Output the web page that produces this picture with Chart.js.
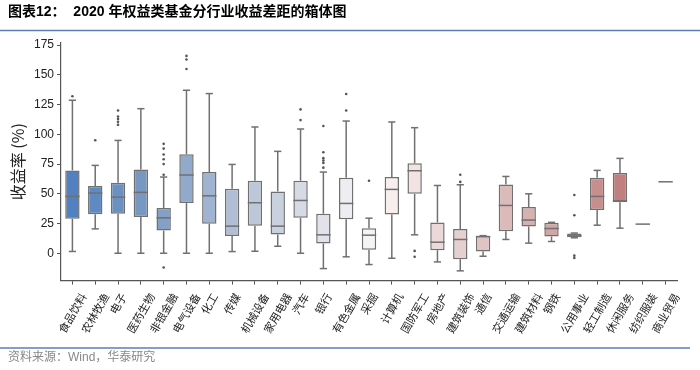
<!DOCTYPE html>
<html>
<head>
<meta charset="utf-8">
<script src="https://cdn.jsdelivr.net/npm/chart.js@4.4.0/dist/chart.umd.min.js"></script>
<style>
  html, body { margin: 0; padding: 0; background: #fff; }
  #wrap { width: 700px; height: 370px; }
</style>
</head>
<body>
<div id="wrap"><canvas id="boxChart"></canvas></div>
<script>
// box plot stats per industry (%)
const categories = ["食品饮料", "农林牧渔", "电子", "医药生物", "非银金融", "电气设备", "化工", "传媒",
  "机械设备", "家用电器", "汽车", "银行", "有色金属", "采掘", "计算机", "国防军工", "房地产",
  "建筑装饰", "通信", "交通运输", "建筑材料", "钢铁", "公用事业", "轻工制造", "休闲服务",
  "纺织服装", "商业贸易"];
const whiskerLow  = [1.5, 20.5, 0, 0, 0, 0, 0, 1.4, 1.7, 5.9, 0, -12.9, -3, -9.5, -4.2, 15.5, -7.3, -14.8, -2.5, 11.6, 8.5, 9.9, 13, 23.6, 21.1, 24.5, 60.1];
const q1          = [29, 32.9, 33.2, 30.4, 19.1, 42.2, 24.8, 14.6, 23.1, 15.8, 29.8, 8.2, 28.7, 2.9, 32.6, 50, 2.6, -5, 1.5, 18.6, 22.5, 14.1, 13.5, 36.3, 43, 24.5, 60.1];
const median      = [47.8, 50.6, 47.2, 51.2, 29.8, 65.8, 48.3, 22.8, 42.5, 22.8, 44.4, 15.5, 41.9, 15.2, 53.7, 69.4, 9.3, 11.6, 14, 40.2, 27.9, 20.8, 14.6, 47.8, 44.1, 24.5, 60.1];
const q3          = [69.7, 56.5, 59.3, 70.5, 38, 83.2, 68.3, 54.2, 61, 52, 61, 33.2, 63.5, 21.1, 64.1, 75.6, 25.9, 20.3, 14.5, 57.9, 38.8, 25.6, 16.6, 63.5, 67.4, 24.5, 60.1];
const whiskerHigh = [128.7, 73.9, 94.9, 121.6, 64.1, 137.1, 134.3, 74.7, 106.2, 85.7, 104.5, 68.3, 111.2, 29.5, 110.4, 105.6, 57, 57.6, 14.8, 64.6, 50, 26, 17, 69.7, 79.8, 24.5, 60.1];
const outliers = [[132], [95], [120, 115, 113, 110.5, 108], [], [92, 88, 83, 79, 75, 66, -12],
  [166, 163, 155], [], [], [], [], [121, 112], [107, 85, 80, 78, 76, 72], [134, 120], [61], [],
  [2, -3], [], [66, 60], [], [], [], [], [49, 32, -2, -4], [], [], [], []];
const yTicks = [0, 25, 50, 75, 100, 125, 150, 175];

const boxColors = ["#5181c0", "#5f89c1", "#6b91c2", "#7898c4", "#84a0c6", "#91a9cb", "#a0b3d0", "#b0bed5",
  "#bcc7da", "#c9d0de", "#d6dae4", "#e2e3ea", "#eeedf1", "#f5f4f4", "#f9eeee", "#f3e3e3", "#ecd8d8",
  "#e6cfcf", "#e0c4c4", "#dbbaba", "#d7b0b0", "#d2a6a6", "#cc9a9a", "#c88e8e", "#c27f7f", "#bd7474", "#b86a6a"];

const EDGE = "#707070";
const AXIS = "#555555";
const FONT = '"Liberation Sans", "Noto Sans CJK SC", sans-serif';
const CJK = '"Noto Sans CJK SC", sans-serif';

const outlierPoints = [];
outliers.forEach((vals, i) => {
  vals.forEach((v) => outlierPoints.push({ x: categories[i], y: v }));
});

// whiskers, caps and median lines
const boxExtras = {
  id: "boxExtras",
  afterDatasetsDraw(chart) {
    const { ctx, scales: { x, y } } = chart;
    const meta = chart.getDatasetMeta(0);
    ctx.save();
    ctx.strokeStyle = EDGE;
    ctx.lineWidth = 1.5;
    const line = (x1, y1, x2, y2) => {
      ctx.beginPath();
      ctx.moveTo(x1, y1);
      ctx.lineTo(x2, y2);
      ctx.stroke();
    };
    categories.forEach((c, i) => {
      const cx = x.getPixelForValue(i);
      const half = meta.data[i].width / 2;
      const cap = half / 2;
      const yHi = y.getPixelForValue(whiskerHigh[i]);
      const yLo = y.getPixelForValue(whiskerLow[i]);
      if (whiskerHigh[i] > q3[i]) {
        line(cx, y.getPixelForValue(q3[i]), cx, yHi);
        line(cx - cap, yHi, cx + cap, yHi);
      }
      if (whiskerLow[i] < q1[i]) {
        line(cx, y.getPixelForValue(q1[i]), cx, yLo);
        line(cx - cap, yLo, cx + cap, yLo);
      }
      const yMed = y.getPixelForValue(median[i]);
      line(cx - half, yMed, cx + half, yMed);
    });
    ctx.restore();
  }
};

// slanted category labels, centred on the tick like the original
const slantLabels = {
  id: "slantLabels",
  afterDraw(chart) {
    const { ctx, scales: { x } } = chart;
    const ang = 60 * Math.PI / 180;
    ctx.save();
    ctx.font = "11px " + CJK;
    ctx.fillStyle = "#222";
    ctx.textAlign = "center";
    ctx.textBaseline = "middle";
    categories.forEach((c, i) => {
      const L = ctx.measureText(c).width;
      const H = L * Math.sin(ang) + 10 * Math.cos(ang);
      const cx = x.getPixelForTick(i);
      const cy = x.top + 11 + H / 2;
      ctx.save();
      ctx.translate(cx, cy);
      ctx.rotate(-ang);
      ctx.fillText(c, 0, 0);
      ctx.restore();
    });
    ctx.restore();
  }
};

// blue rules under the title and above the source line
const rules = {
  id: "rules",
  afterDraw(chart) {
    const ctx = chart.ctx;
    ctx.save();
    ctx.strokeStyle = "#5b80b8";
    ctx.lineWidth = 1.6;
    ctx.beginPath();
    ctx.moveTo(0, 30.5);
    ctx.lineTo(700, 30.5);
    ctx.moveTo(0, 348);
    ctx.lineTo(690, 348);
    ctx.stroke();
    ctx.restore();
  }
};

new Chart(document.getElementById("boxChart"), {
  type: "bar",
  data: {
    labels: categories,
    datasets: [
      {
        type: "bar",
        data: categories.map((c, i) => [q1[i], q3[i]]),
        backgroundColor: boxColors,
        borderColor: EDGE,
        borderWidth: 1.5,
        borderSkipped: false,
        barPercentage: 0.63,
        categoryPercentage: 1,
      },
      {
        type: "line",
        data: outlierPoints,
        showLine: false,
        pointRadius: 1.3,
        pointBorderWidth: 0,
        pointBackgroundColor: "#555",
      },
    ],
  },
  options: {
    responsive: true,
    maintainAspectRatio: false,
    animation: false,
    layout: { padding: { left: 8, right: 23, top: 0, bottom: 0 } },
    plugins: {
      legend: { display: false },
      tooltip: { enabled: false },
      title: {
        display: true,
        text: "图表12：  2020 年权益类基金分行业收益差距的箱体图",
        align: "start",
        color: "#000",
        font: { family: FONT, size: 14, weight: "bold" },
        padding: { top: 4, bottom: 22 },
      },
      subtitle: {
        display: true,
        position: "bottom",
        align: "start",
        text: "资料来源：Wind，华泰研究",
        color: "#888",
        font: { family: FONT, size: 12 },
        padding: { top: 0, bottom: 5 },
      },
    },
    scales: {
      x: {
        offset: true,
        grid: { display: true, offset: false, drawOnChartArea: false, drawTicks: true, tickLength: 4, color: AXIS },
        border: { display: true, color: AXIS, width: 1.2 },
        ticks: { display: false },
        afterFit(scale) { scale.height = 70; },
      },
      y: {
        min: -23,
        max: 177,
        afterBuildTicks(scale) { scale.ticks = yTicks.map((v) => ({ value: v })); },
        ticks: { color: "#222", padding: 3, font: { family: FONT, size: 12 } },
        grid: { drawOnChartArea: false, drawTicks: true, tickLength: 4, color: AXIS },
        border: { display: true, color: AXIS, width: 1.2 },
        title: {
          display: true,
          text: "收益率 (%)",
          color: "#222",
          font: { family: CJK, size: 16 },
          padding: { top: 0, bottom: 0 },
        },
        afterFit(scale) { scale.width = 53; },
      },
    },
  },
  plugins: [boxExtras, slantLabels, rules],
});
</script>
</body>
</html>
